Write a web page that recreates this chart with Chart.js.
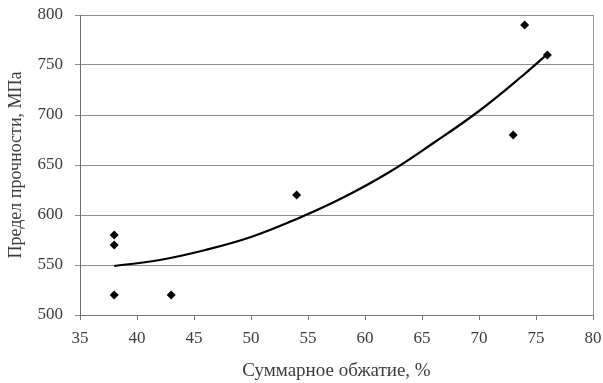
<!DOCTYPE html>
<html lang="ru">
<head>
<meta charset="utf-8">
<title>Предел прочности</title>
<script src="https://cdn.jsdelivr.net/npm/chart.js@4/dist/chart.umd.min.js"></script>
<style>
  html, body { margin: 0; padding: 0; background: #fff; }
  #wrap { width: 603px; height: 383px; position: relative; }
</style>
</head>
<body>
<div id="wrap"><canvas id="chart"></canvas></div>
<script>
// измеренные точки
const obzhatie = [38, 38, 38, 43, 54, 73, 74, 76];
const prochnost = [580, 570, 520, 520, 620, 680, 790, 760];

// линия тренда (полином 2-й степени)
const trendX = [38, 42, 46, 50, 54, 58, 62, 66, 70, 74, 76];
const trendY = [549, 555, 565, 578, 596, 617, 642, 672, 704, 741, 761];

const xTicks = [35, 40, 45, 50, 55, 60, 65, 70, 75, 80];
const yTicks = [500, 550, 600, 650, 700, 750, 800];

const serif = "'Liberation Serif', 'Times New Roman', serif";
const textColor = '#3c3c3c';

// правая рамка области построения
const frameRight = {
  id: 'frameRight',
  afterDraw(chart) {
    const { ctx, chartArea } = chart;
    ctx.save();
    ctx.strokeStyle = '#9a9a9a';
    ctx.lineWidth = 1;
    ctx.beginPath();
    ctx.moveTo(Math.round(chartArea.right) + 0.5, chartArea.top);
    ctx.lineTo(Math.round(chartArea.right) + 0.5, chartArea.bottom);
    ctx.stroke();
    ctx.restore();
  }
};

new Chart(document.getElementById('chart'), {
  type: 'scatter',
  data: {
    datasets: [
      {
        label: 'Тренд',
        data: trendX.map((x, i) => ({ x, y: trendY[i] })),
        showLine: true,
        borderColor: '#000',
        borderWidth: 2.2,
        tension: 0.4,
        pointRadius: 0,
        fill: false
      },
      {
        label: 'Эксперимент',
        data: obzhatie.map((x, i) => ({ x, y: prochnost[i] })),
        pointStyle: 'rectRot',
        pointRadius: 4.5,
        backgroundColor: '#000',
        borderColor: '#000',
        borderWidth: 0
      }
    ]
  },
  options: {
    responsive: true,
    maintainAspectRatio: false,
    animation: false,
    layout: { padding: { left: 0, right: 10, top: 15, bottom: 0 } },
    plugins: {
      legend: { display: false },
      tooltip: { enabled: false }
    },
    scales: {
      x: {
        type: 'linear',
        min: 35,
        max: 80,
        afterBuildTicks: s => { s.ticks = xTicks.map(v => ({ value: v })); },
        afterFit: s => {
          s.height = 68;
          s.paddingLeft = 0;
          s.paddingRight = 0;
        },
        grid: {
          drawOnChartArea: false,
          drawTicks: true,
          tickLength: 5,
          color: '#7a7a7a'
        },
        border: { color: '#7a7a7a', width: 1 },
        ticks: {
          padding: 8,
          color: textColor,
          font: { family: serif, size: 17 }
        },
        title: {
          display: true,
          text: 'Суммарное обжатие, %',
          color: textColor,
          font: { family: serif, size: 19 },
          padding: { top: 0, bottom: 1 }
        }
      },
      y: {
        min: 500,
        max: 800,
        afterBuildTicks: s => { s.ticks = yTicks.map(v => ({ value: v })); },
        afterFit: s => {
          s.width = 80;
          s.paddingTop = 0;
          s.paddingBottom = 0;
        },
        grid: {
          color: '#8e8e8e',
          lineWidth: 1,
          drawTicks: true,
          tickLength: 5
        },
        border: { color: '#6e6e6e', width: 1 },
        ticks: {
          padding: 12,
          color: textColor,
          font: { family: serif, size: 17 }
        },
        title: {
          display: true,
          text: 'Предел прочности, МПа',
          color: textColor,
          font: { family: serif, size: 18 },
          padding: { top: 5, bottom: 0 }
        }
      }
    }
  },
  plugins: [frameRight]
});
</script>
</body>
</html>
